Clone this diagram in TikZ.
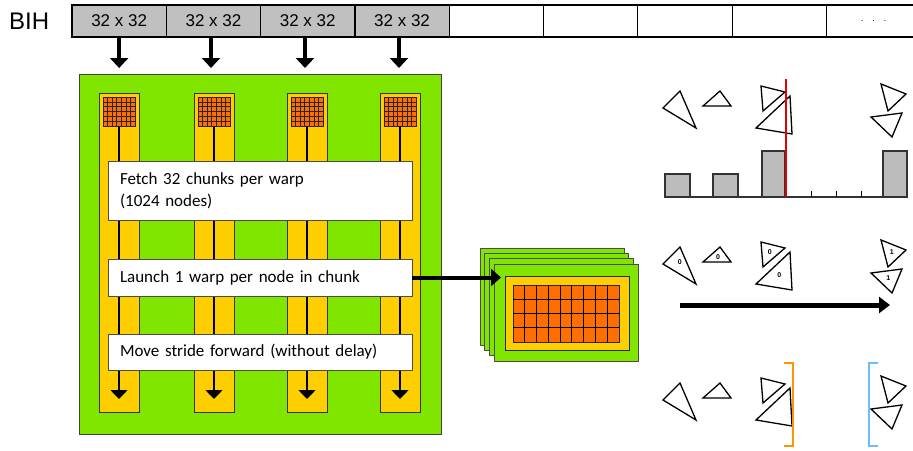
\documentclass[tikz,border=0pt]{standalone}
\usepackage{fontspec}
\setmainfont{Liberation Sans}
\newfontfamily\calfont{Carlito}
\usetikzlibrary{arrows.meta}

\definecolor{leaf}{RGB}{128,230,0}
\definecolor{gold}{RGB}{255,206,0}
\definecolor{tile}{RGB}{255,110,0}
\definecolor{cellgray}{RGB}{192,192,192}
\definecolor{bargray}{RGB}{188,188,188}
\definecolor{splitred}{RGB}{230,0,0}
\definecolor{brkorange}{RGB}{255,150,0}
\definecolor{brkblue}{RGB}{110,190,255}

\begin{document}
\begin{tikzpicture}[x=1pt,y=-1pt,
  cellbox/.style={draw=black, line width=1.2pt, minimum width=94.3pt, minimum height=32pt,
    anchor=north west, inner sep=0pt, outer sep=0pt, font=\fontsize{17}{20}\selectfont},
  gpubox/.style={draw=black!75, line width=1pt, fill=leaf, anchor=north west,
    minimum width=362pt, minimum height=360pt, inner sep=0pt, outer sep=0pt},
  colbox/.style={draw=black!80, line width=1pt, fill=gold, anchor=north west,
    minimum width=40pt, minimum height=319pt, inner sep=0pt, outer sep=0pt},
  tilebox/.style={draw=black!85, line width=1pt, fill=tile, anchor=north west,
    minimum width=32pt, minimum height=29pt, inner sep=0pt, outer sep=0pt},
  gridline/.style={draw=black!85, line width=0.6pt},
  stepbox/.style={draw=black!70, line width=0.8pt, fill=white, anchor=north west,
    text width=280pt, align=left, inner xsep=12pt, inner ysep=0pt, outer sep=0pt,
    font=\calfont\fontsize{17}{22}\selectfont},
  cardbox/.style={draw=black!70, line width=1pt, fill=leaf, anchor=north west,
    minimum width=144pt, minimum height=97pt, inner sep=0pt, outer sep=0pt},
  bigarrow/.style={line width=3.5pt, -{Triangle[width=18pt,length=10pt]}},
  colarrow/.style={line width=1.5pt, -{Triangle[width=17pt,length=9pt]}},
  pusharrow/.style={line width=4pt, -{Triangle[width=17pt,length=10pt]}},
  sweeparrow/.style={line width=5pt, -{Triangle[width=16pt,length=11pt]}},
  tri/.style={draw=black, line width=1.3pt, line join=miter},
  histbar/.style={draw=black!80, line width=1.2pt, fill=bargray},
  tag/.style={font=\fontsize{7}{8}\selectfont\bfseries, inner sep=0pt},
  bracket/.style={line width=2.5pt}
]
\useasboundingbox (0,0) rectangle (913,450);
\clip (0,0) rectangle (913,450);

% ---- BIH array of 32x32 chunks ----
\node[font=\fontsize{24}{26}\selectfont, anchor=west, inner sep=0pt] (bih) at (9,21) {BIH};
\node[cellbox, fill=cellgray] (c1) at (72,5) {32 x 32};
\node[cellbox, fill=cellgray] (c2) at (166.3,5) {32 x 32};
\node[cellbox, fill=cellgray] (c3) at (260.6,5) {32 x 32};
\node[cellbox, fill=cellgray] (c4) at (354.9,5) {32 x 32};
\node[cellbox, fill=white] (c5) at (449.2,5) {};
\node[cellbox, fill=white] (c6) at (543.5,5) {};
\node[cellbox, fill=white] (c7) at (637.8,5) {};
\node[cellbox, fill=white] (c8) at (732.1,5) {};
\node[cellbox, fill=white, font=\fontsize{9}{10}\selectfont] (c9) at (826.4,5) {.\hspace{9pt}.\hspace{9pt}.};

% ---- GPU block ----
\node[gpubox] (gpu) at (79,74) {};

\coordinate (in1) at (119,68);
\coordinate (in2) at (211,68);
\coordinate (in3) at (305,68);
\coordinate (in4) at (399,68);
\draw[bigarrow] (c1.south) -- (c1.south |- in1);
\draw[bigarrow] (in2 |- c2.south) -- (in2);
\draw[bigarrow] (in3 |- c3.south) -- (in3);
\draw[bigarrow] (in4 |- c4.south) -- (in4);

\coordinate (floor) at (0,399);
\foreach \x/\n in {99/1,194/2,287/3,380/4}{
  \node[colbox] (col\n) at (\x,93) {};
  \node[tilebox] (g\n) at ({\x+4},97) {};
  \foreach \k in {1,...,6}
    \draw[gridline] ({\x+4+\k*32/7},97) -- ++(0,29);
  \foreach \k in {1,...,5}
    \draw[gridline] ({\x+4},{97+\k*29/6}) -- ++(32,0);
  \draw[colarrow] (g\n.south) -- (g\n.south |- floor);
}

\node[stepbox, minimum height=59pt] (fetch) at (108,161) {Fetch 32 chunks per warp\\(1024 nodes)};
\node[stepbox, minimum height=37pt] (launch) at (108,259) {Launch 1 warp per node in chunk};
\node[stepbox, minimum height=36pt] (move) at (108,334) {Move stride forward (without delay)};

% ---- stacked warp cards ----
\foreach \dx/\dy/\n in {0/0/a,4.7/5.3/b,9.3/10.7/c,14/16/d}
  \node[cardbox] (card\n) at ({480+\dx},{248+\dy}) {};
\node[draw=black!85, line width=1pt, fill=gold, anchor=north west, minimum width=124pt,
  minimum height=74pt, inner sep=0pt, outer sep=0pt] (slot) at (505,276) {};
\node[draw=black!85, line width=1pt, fill=tile, anchor=north west, minimum width=106pt,
  minimum height=57pt, inner sep=0pt, outer sep=0pt] (lanes) at (513,285) {};
\foreach \k in {1,...,8}
  \draw[black, line width=1pt] ({513+\k*106/9},285) -- ++(0,57);
\foreach \k in {1,...,3}
  \draw[black, line width=1pt] (513,{285+\k*57/4}) -- ++(106,0);

\coordinate (hit) at (501,277.5);
\draw[pusharrow] (launch.east) -- (hit);

% ---- triangle sets, three rows ----
\foreach \dy in {0,156,292}{
  \begin{scope}[shift={(0,\dy)}]
    \draw[tri] (680,91) -- (663,108) -- (696,128) -- cycle;
    \draw[tri] (720,91) -- (703,106) -- (731,106) -- cycle;
    \draw[tri] (761,86) -- (763,111) -- (785,92) -- cycle;
    \draw[tri] (790,96) -- (756,128) -- (792,134) -- cycle;
    \draw[tri] (881,84) -- (888,111) -- (906,94) -- cycle;
    \draw[tri] (871,117) -- (902,113) -- (892,137) -- cycle;
  \end{scope}
}

% row 1: histogram with split plane
\draw[histbar] (665,197) rectangle (690,174);
\draw[histbar] (713,197) rectangle (738,174);
\draw[histbar] (762,197) rectangle (785,151);
\draw[histbar] (883,197) rectangle (907,151);
\draw[black!80, line width=1.5pt] (665,197) -- (907,197);
\foreach \t in {811,836,861}
  \draw[black, line width=1pt] (\t,191) -- (\t,197);
\draw[splitred, line width=2.5pt] (786,79) -- (786,197);

% row 2: side labels and sweep arrow
\node[tag] (l1) at (679.7,262.3) {0};
\node[tag] (l2) at (718,257) {0};
\node[tag] (l3) at (769.7,252.3) {0};
\node[tag] (l4) at (779.3,275.3) {0};
\node[tag] (l5) at (891.7,252.3) {1};
\node[tag] (l6) at (888.3,278.3) {1};
\coordinate (sweepstart) at (680,305);
\coordinate (sweepend) at (890,305);
\draw[sweeparrow] (sweepstart) -- (sweepend);

% row 3: resulting bounds
\draw[bracket, brkorange] (784,363) -- (793,363) -- (793,446) -- (784,446);
\draw[bracket, brkblue] (878,363) -- (869,363) -- (869,446) -- (878,446);
\end{tikzpicture}
\end{document}
